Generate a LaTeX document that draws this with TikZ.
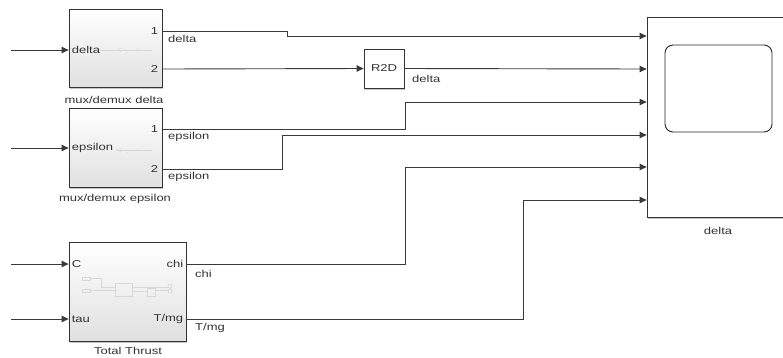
\documentclass[tikz,border=0pt]{standalone}
\usepackage{fontspec}
\setmainfont{Liberation Sans}[FakeStretch=1.3]
\usepackage{xcolor}
\usepackage{tikz}
\usetikzlibrary{arrows.meta, shadows}

\definecolor{wire}{HTML}{3A3A3A}
\definecolor{txt}{HTML}{333333}
\definecolor{faint}{HTML}{D8D8D8}

\begin{document}
\begin{tikzpicture}[x=1pt, y=-1pt, >={Triangle[length=7pt,width=6.5pt]},
    font=\fontsize{10}{11}\selectfont, text=txt,
    blk/.style={draw=black!80, line width=0.8pt, top color=white, bottom color=black!12,
        drop shadow={shadow xshift=1.2pt, shadow yshift=-1.5pt, opacity=.45}},
    plain/.style={draw=black!80, line width=0.8pt, fill=white,
        drop shadow={shadow xshift=1.2pt, shadow yshift=-1.5pt, opacity=.45}},
    sig/.style={draw=wire, line width=0.9pt},
    lbl/.style={inner sep=0pt, anchor=west}]
    \clip (0,0) rectangle (783,357);

    % blocks
    \node[blk, minimum width=93pt, minimum height=78pt] (mdd) at (115.5,48) {};
    \node[blk, minimum width=93pt, minimum height=79pt] (mde) at (115.5,147.5) {};
    \node[blk, minimum width=117pt, minimum height=99pt] (tt) at (127.5,291.5) {};
    \node[plain, minimum width=40pt, minimum height=39pt] (r2d) at (384,68.5) {R2D};
    \node[plain, minimum width=142pt, minimum height=200pt] (sc) at (718,117) {};
    \draw[black!85, line width=0.9pt, rounded corners=8pt] (665,45) rectangle (772,132);

    % block names
    \node (mddname) at (114,100) {mux/demux delta};
    \node (mdename) at (115,199) {mux/demux epsilon};
    \node (ttname) at (128,351) {Total Thrust};
    \node (scname) at (718,231) {delta};

    % ports
    \coordinate (mdd-in) at (mdd.west |- {(0,50)});
    \coordinate (mdd-o1) at (mdd.east |- {(0,31)});
    \coordinate (mdd-o2) at (mdd.east |- {(0,69)});
    \coordinate (mde-in) at (mde.west |- {(0,148)});
    \coordinate (mde-o1) at (mde.east |- {(0,129)});
    \coordinate (mde-o2) at (mde.east |- {(0,169)});
    \coordinate (tt-c) at (tt.west |- {(0,264)});
    \coordinate (tt-tau) at (tt.west |- {(0,319)});
    \coordinate (tt-chi) at (tt.east |- {(0,264)});
    \coordinate (tt-tmg) at (tt.east |- {(0,319)});
    \foreach \k/\y in {1/36, 2/69, 3/102, 4/135, 5/167, 6/200}
        \coordinate (sc-i\k) at (sc.west |- {(0,\y)});

    % port labels inside the blocks
    \node[lbl] (pdelta) at ([xshift=3pt]mdd-in) {delta};
    \node[lbl, anchor=east] (p1d) at ([xshift=-4pt]mdd-o1) {1};
    \node[lbl, anchor=east] (p2d) at ([xshift=-4pt]mdd-o2) {2};
    \node[lbl] (peps) at ([xshift=3pt]mde-in) {epsilon};
    \node[lbl, anchor=east] (p1e) at ([xshift=-4pt]mde-o1) {1};
    \node[lbl, anchor=east] (p2e) at ([xshift=-4pt]mde-o2) {2};
    \node[lbl] (pc) at ([xshift=3pt]tt-c) {C};
    \node[lbl] (ptau) at ([xshift=3pt]tt-tau) {tau};
    \node[lbl, anchor=east] (pchi) at ([xshift=-3pt]tt-chi) {chi};
    \node[lbl, anchor=east] (ptmg) at ([xshift=-3pt]tt-tmg) {T/mg};

    % faint icons
    \draw[faint, line width=0.6pt] (99,50) -- (152,50);
    \draw[faint, line width=0.6pt] (121,48) -- (117,50) -- (121,52) (127,52) -- (127,53) (135,50) -- (139,50);
    \draw[faint, line width=0.6pt] (116,150) -- (152,150);
    \draw[faint, line width=0.6pt] (121,148) -- (117,150) -- (121,152) (127,152) -- (127,153) (135,150) -- (139,150);
    \begin{scope}[faint, line width=0.7pt]
        \draw (82,277) rectangle (90,280) (82,289) rectangle (90,292);
        \draw (90,278.5) -- (101,278.5) -- (101,287) -- (115,287) (90,290.5) -- (115,290.5);
        \draw (115,283) rectangle (132,296);
        \draw (132,291) -- (147,291) (155,290) -- (168,290) (132,287) -- (168,287);
        \draw (147,288) rectangle (155,296);
        \draw (170,286) circle (2pt) (170,291) circle (2pt);
    \end{scope}

    % free input ends
    \coordinate (src-d) at (11,50);
    \coordinate (src-e) at (11,148);
    \coordinate (src-c) at (11,264);
    \coordinate (src-tau) at (11,319);

    % wires
    \draw[sig, ->] (src-d) -- (mdd-in);
    \draw[sig, ->] (src-e) -- (mde-in);
    \draw[sig, ->] (src-c) -- (tt-c);
    \draw[sig, ->] (src-tau) -- (tt-tau);
    \draw[sig, ->] (mdd-o1) -- ++(125,0) |- (sc-i1);
    \draw[sig, ->] (mdd-o2) -- (r2d.west);
    \draw[sig, ->] (r2d.east) -- (sc-i2);
    \draw[sig, ->] (mde-o1) -- ++(243,0) |- (sc-i3);
    \draw[sig, ->] (mde-o2) -- ++(120,0) |- (sc-i4);
    \draw[sig, ->] (tt-chi) -- ++(219,0) |- (sc-i5);
    \draw[sig, ->] (tt-tmg) -- ++(337,0) |- (sc-i6);

    % wire labels
    \node[lbl] (wdelta) at (168,39) {delta};
    \node[lbl] (wr2d) at (412,79) {delta};
    \node[lbl] (weps1) at (168,137) {epsilon};
    \node[lbl] (weps2) at (168,177) {epsilon};
    \node[lbl] (wchi) at (195,274) {chi};
    \node[lbl] (wtmg) at (195,328) {T/mg};
\end{tikzpicture}
\end{document}
